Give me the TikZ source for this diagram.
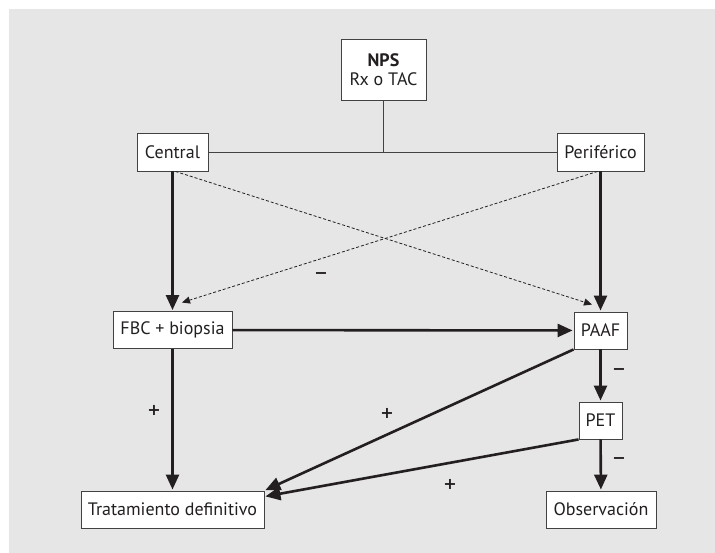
\documentclass[tikz,border=0pt]{standalone}
\usepackage{fontspec}
\setmainfont{PT Sans}
\newfontfamily\signfont{DejaVu Sans}
\usetikzlibrary{arrows.meta}
\definecolor{panel}{RGB}{230,230,230}
\definecolor{ink}{RGB}{35,31,32}
\tikzset{
  box/.style={draw=ink!85, line width=0.9pt, fill=white, rectangle, inner sep=0pt, font=\fontsize{18}{20}\selectfont, text=ink},
  thin/.style={draw=ink!85, line width=0.9pt},
  thick arrow/.style={draw=ink, line width=2.6pt, -{Triangle[length=15pt,width=13pt]}, shorten >=1pt},
  dash arrow/.style={draw=ink, line width=0.8pt, dash pattern=on 3pt off 2pt, -{Triangle[length=8pt,width=7pt]}},
  sign/.style={font=\signfont\bfseries\fontsize{16}{18}\selectfont, text=ink, inner sep=0pt}
}
\begin{document}
\begin{tikzpicture}[x=1pt,y=-1pt]
\useasboundingbox (0,0) rectangle (715,553);
\fill[panel] (9,9) rectangle (715,553);
\node[box, minimum width=85pt, minimum height=61pt, align=center] (nps) at (383.5,69.5) {\textbf{NPS}\\[-1pt]Rx o TAC};
\node[box, minimum width=71pt, minimum height=38pt] (central) at (172.5,152) {Central};
\node[box, minimum width=87pt, minimum height=38pt] (perif) at (600.5,152) {Periférico};
\node[box, minimum width=119pt, minimum height=37pt] (fbc) at (172.5,330) {FBC + biopsia};
\node[box, minimum width=53pt, minimum height=37pt] (paaf) at (600.5,330.5) {PAAF};
\node[box, minimum width=43pt, minimum height=37pt] (pet) at (600.5,420.5) {PET};
\node[box, minimum width=183pt, minimum height=37pt] (trat) at (172.5,509.5) {Tratamiento definitivo};
\node[box, minimum width=110pt, minimum height=37pt] (obs) at (601,509.5) {Observación};
\coordinate (j) at (383.5,152);
\draw[thin] (nps) -- (j);
\draw[thin] (central) -- (perif);
\draw[dash arrow] ([xshift=3pt]central.south) -- ([shift={(-8.5pt,7pt)}]paaf.north);
\draw[dash arrow] ([xshift=-3pt]perif.south) -- ([shift={(9.5pt,8.5pt)}]fbc.north);
\draw[thick arrow] (central) -- (fbc);
\draw[thick arrow] (perif) -- (paaf);
\draw[thick arrow] (fbc) -- (paaf);
\draw[thick arrow] (paaf) -- (pet);
\draw[thick arrow] (pet) -- (obs);
\draw[thick arrow] (fbc.south) -- (fbc.south |- trat.north);
\draw[thick arrow] (paaf.south west) -- (trat.north east);
\draw[thick arrow] (pet.south west) -- ([yshift=-6pt]trat.north east);
\node[sign] (m1) at (321,276) {−};
\node[sign] (m2) at (619,372) {−};
\node[sign] (m3) at (619,461) {−};
\node[sign] (p1) at (154,410) {+};
\node[sign] (p2) at (387,413) {+};
\node[sign] (p3) at (450,484) {+};
\end{tikzpicture}
\end{document}
